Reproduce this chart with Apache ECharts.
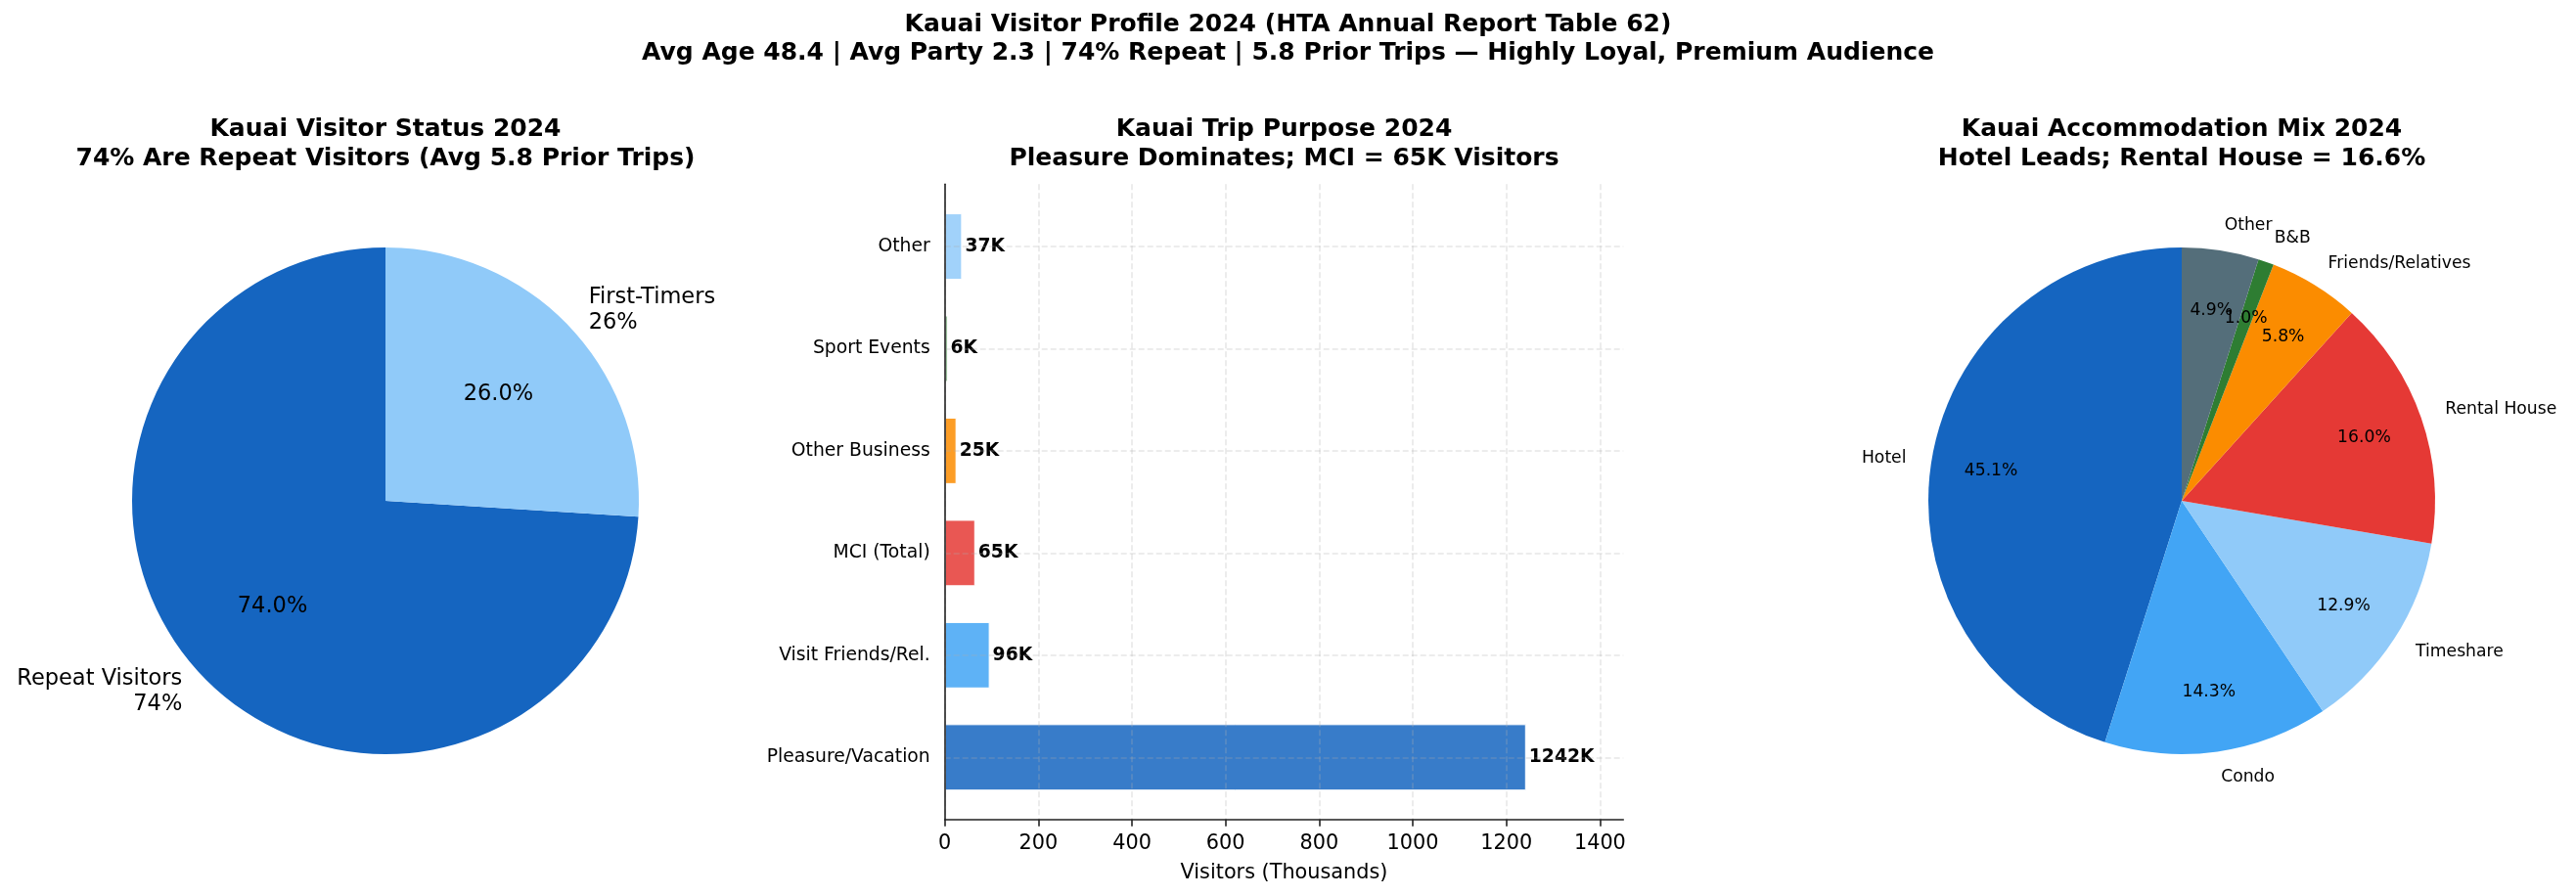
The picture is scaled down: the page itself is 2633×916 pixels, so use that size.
<!DOCTYPE html>
<html>
<head>
<meta charset="utf-8">
<script src="https://cdn.jsdelivr.net/npm/echarts@6/dist/echarts.min.js"></script>
<style>
html, body { margin: 0; padding: 0; background: #fff; }
#main { width: 2633px; height: 916px; }
</style>
</head>
<body>
<div id="main"></div>
<script>
// left pie: visitor status
var statusNames = ['Repeat Visitors', 'First-Timers'];
var statusValues = [74, 26];

// middle bars: trip purpose, listed bottom to top
var purposeNames = ['Pleasure/Vacation', 'Visit Friends/Rel.', 'MCI (Total)', 'Other Business', 'Sport Events', 'Other'];
var purposeValues = [1242, 96, 65, 25, 6, 37];
var xTicks = [0, 200, 400, 600, 800, 1000, 1200, 1400];

// right pie: accommodation mix (%)
var stayNames = ['Hotel', 'Condo', 'Timeshare', 'Rental House', 'Friends/Relatives', 'B&B', 'Other'];
var stayValues = [45.1, 14.3, 12.9, 16.0, 5.8, 1.0, 4.9];

var statusColors = ['#1565C0', '#90CAF9'];
var purposeColors = ['#1565C0', '#42A5F5', '#E53935', '#FB8C00', '#2E7D32', '#90CAF9'];
var stayColors = ['#1565C0', '#42A5F5', '#90CAF9', '#E53935', '#FB8C00', '#2E7D32', '#546E7A'];

var R = 259;        // pie radius
var CY = 512;       // pie centre y
var gridColor = 'rgba(176,176,176,0.3)';
var spine = { color: '#222', width: 1.6 };

function fade(hex, a) {
	var n = parseInt(hex.slice(1), 16);
	return 'rgba(' + (n >> 16) + ',' + ((n >> 8) & 255) + ',' + (n & 255) + ',' + a + ')';
}

// two series per pie: one carries the outside names, the other the % text
// pctDist = where the % text sits as a fraction of r (inside label = mid of ring)
function pieSeries(names, values, colors, cx, fs, pctDist, outText) {
	var outer = {
		type: 'pie',
		center: [cx, CY],
		radius: [0, R],
		startAngle: 90,
		clockwise: false,
		avoidLabelOverlap: false,
		silent: true,
		data: names.map(function (n, i) {
			return { name: n, value: values[i], itemStyle: { color: colors[i] } };
		}),
		label: {
			show: true, position: 'outside', formatter: outText,
			fontSize: fs, lineHeight: fs * 1.17, color: '#000', distanceToLabelLine: 0
		},
		labelLine: { show: false, length: R * 0.1, length2: 0 },
		labelLayout: { hideOverlap: false }
	};
	var inner = {
		type: 'pie',
		center: [cx, CY],
		radius: [R * (2 * pctDist - 1), R],
		startAngle: 90,
		clockwise: false,
		avoidLabelOverlap: false,
		silent: true,
		minShowLabelAngle: 0,
		data: names.map(function (n, i) {
			return { name: n, value: values[i] };
		}),
		itemStyle: { color: 'rgba(0,0,0,0)' },
		label: {
			show: true, position: 'inside', fontSize: fs, color: '#000', overflow: 'none',
			formatter: function (p) { return p.percent.toFixed(1) + '%'; }
		},
		labelLine: { show: false },
		labelLayout: { hideOverlap: false }
	};
	return [outer, inner];
}

var titleStyle = { fontSize: 25, fontWeight: 'bold', color: '#000', lineHeight: 30 };

var series = [];
series = series.concat(pieSeries(statusNames, statusValues, statusColors, 394, 22.5, 0.6,
	function (p) { return p.name + '\n' + p.value + '%'; }));
series = series.concat(pieSeries(stayNames, stayValues, stayColors, 2230, 17.2, 0.75,
	function (p) { return p.name; }));

series.push({
	type: 'bar',
	xAxisIndex: 0,
	yAxisIndex: 0,
	barWidth: '65%',
	data: purposeValues.map(function (v, i) {
		return { value: v, itemStyle: { color: fade(purposeColors[i], 0.85) } };
	}),
	itemStyle: { borderColor: '#fff', borderWidth: 1 },
	label: {
		show: true, position: 'right', distance: 3,
		formatter: function (p) { return p.value + 'K'; },
		fontSize: 18.75, fontWeight: 'bold', color: '#000'
	},
	markLine: {
		silent: true,
		symbol: ['none', 'none'],
		label: { show: false },
		lineStyle: { color: gridColor, type: [6, 3], width: 1.6 },
		data: purposeNames.map(function (n) { return { yAxis: n }; })
	}
});

var chart = echarts.init(document.getElementById('main'));
chart.setOption({
	animation: false,
	backgroundColor: '#fff',
	textStyle: { fontFamily: 'DejaVu Sans' },
	title: [
		{
			text: 'Kauai Visitor Profile 2024 (HTA Annual Report Table 62)\nAvg Age 48.4 | Avg Party 2.3 | 74% Repeat | 5.8 Prior Trips \u2014 Highly Loyal, Premium Audience',
			left: 1316.5, top: 11, textAlign: 'center', padding: 0,
			textStyle: { fontSize: 25, fontWeight: 'bold', color: '#000', lineHeight: 29 }
		},
		{ text: 'Kauai Visitor Status 2024\n74% Are Repeat Visitors (Avg 5.8 Prior Trips)', left: 394, top: 117, textAlign: 'center', padding: 0, textStyle: titleStyle },
		{ text: 'Kauai Trip Purpose 2024\nPleasure Dominates; MCI = 65K Visitors', left: 1312.5, top: 117, textAlign: 'center', padding: 0, textStyle: titleStyle },
		{ text: 'Kauai Accommodation Mix 2024\nHotel Leads; Rental House = 16.6%', left: 2230, top: 117, textAlign: 'center', padding: 0, textStyle: titleStyle }
	],
	grid: [
		{ left: 965.7, right: 973.7, top: 199.8, bottom: 89.5 },   // bars
		{ left: 965.7, right: 973.7, top: 188.3, bottom: 78.3 }    // frame (spines, x ticks)
	],
	xAxis: [
		{ gridIndex: 0, type: 'value', min: 0, max: 1450, show: false },
		{
			gridIndex: 1, type: 'value', min: 0, max: 1450, interval: 200, z: 10,
			name: 'Visitors (Thousands)', nameLocation: 'middle', nameGap: 44,
			nameTextStyle: { fontSize: 20.8, color: '#000' },
			axisLine: { lineStyle: spine },
			axisTick: { length: 7, lineStyle: spine, customValues: xTicks },
			axisLabel: {
				fontSize: 20.8, color: '#000', margin: 14, customValues: xTicks,
				formatter: function (v) { return String(v); }
			},
			splitLine: { show: true, lineStyle: { color: gridColor, type: [6, 3], width: 1.6 } }
		}
	],
	yAxis: [
		{
			gridIndex: 0, type: 'category', data: purposeNames,
			axisLine: { show: false },
			axisTick: { alignWithLabel: true, length: 7, lineStyle: spine },
			axisLabel: { fontSize: 18.75, color: '#000', margin: 15, interval: 0 },
			splitLine: { show: false }
		},
		{
			gridIndex: 1, type: 'value', min: 0, max: 1, z: 10,
			axisLine: { show: true, lineStyle: spine },
			axisTick: { show: false }, axisLabel: { show: false }, splitLine: { show: false }
		}
	],
	series: series
});
</script>
</body>
</html>
